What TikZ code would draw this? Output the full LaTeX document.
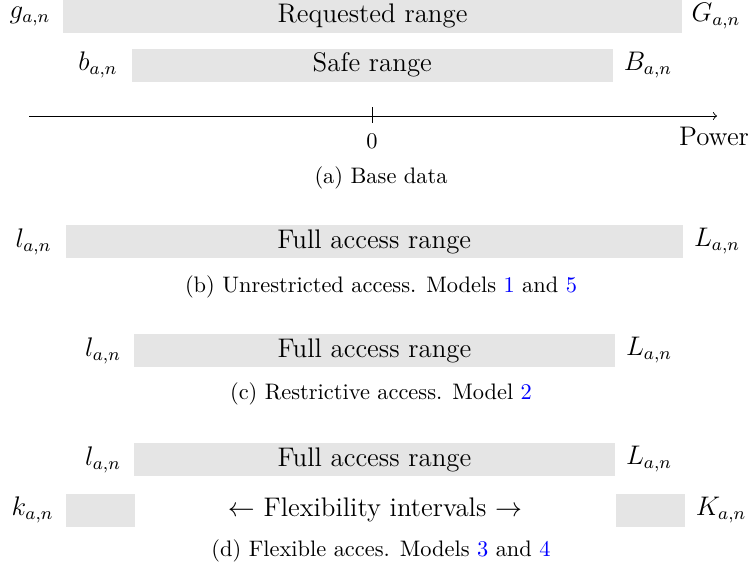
\documentclass[tikz,border=0pt]{standalone}
\definecolor{boxgray}{gray}{0.9}
\definecolor{refblue}{rgb}{0,0,1}
\begin{document}
\begin{tikzpicture}[x=0.4464pt,y=-0.4464pt,
  rangebox/.style={fill=boxgray, draw=none, inner sep=0pt, font=\large, minimum height={33*0.4464pt}},
  lbl/.style={font=\large, inner sep=0pt},
  captxt/.style={font=\normalsize, inner sep=0pt},
  axisline/.style={->, line width=0.4pt}]
\useasboundingbox (0,0) rectangle (751,570);
% (a) base data
\node[rangebox, minimum width={619*0.4464pt}] (req) at (372.5,16) {Requested range};
\node[lbl] (g) at (30,16) {$g_{a,n}$};
\node[lbl] (G) at (716,16) {$G_{a,n}$};
\node[rangebox, minimum width={481*0.4464pt}] (safe) at (372.3,65) {Safe range};
\node[lbl] (b) at (98,65) {$b_{a,n}$};
\node[lbl] (B) at (648,65) {$B_{a,n}$};
\coordinate (axL) at (29,116);
\coordinate (axR) at (717,116);
\coordinate (tickT) at (372,107);
\coordinate (tickB) at (372,123);
\draw[axisline] (axL) -- (axR);
\draw (tickT) -- (tickB);
\node[captxt] (zero) at (372,141) {0};
\node[lbl] (power) at (714,136) {Power};
\node[captxt] (capa) at (381,178) {(a) Base data};
% (b)
\node[rangebox, minimum width={617*0.4464pt}] (fullb) at (374.3,241.5) {Full access range};
\node[lbl] (lb) at (33.5,241.5) {$l_{a,n}$};
\node[lbl] (Lb) at (717,241.5) {$L_{a,n}$};
\node[captxt] (capb) at (381,287) {(b) Unrestricted access. Models \textcolor{refblue}{1} and \textcolor{refblue}{5}};
% (c)
\node[rangebox, minimum width={481*0.4464pt}] (fullc) at (374.5,350.5) {Full access range};
\node[lbl] (lc) at (103,350.5) {$l_{a,n}$};
\node[lbl] (Lc) at (649,350.5) {$L_{a,n}$};
\node[captxt] (capc) at (381,394) {(c) Restrictive access. Model \textcolor{refblue}{2}};
% (d)
\node[rangebox, minimum width={481*0.4464pt}] (fulld) at (374.5,459.5) {Full access range};
\node[lbl] (ld) at (103,459.5) {$l_{a,n}$};
\node[lbl] (Ld) at (649,459.5) {$L_{a,n}$};
\node[rangebox, minimum width={69*0.4464pt}] (flexl) at (100.5,510) {};
\node[rangebox, minimum width={69*0.4464pt}] (flexr) at (650.5,510) {};
\node[lbl] (k) at (32.6,510) {$k_{a,n}$};
\node[lbl] (K) at (721,510) {$K_{a,n}$};
\node[lbl] (flex) at (375,510) {$\leftarrow$ Flexibility intervals $\rightarrow$};
\node[captxt] (capd) at (381,551) {(d) Flexible acces. Models \textcolor{refblue}{3} and \textcolor{refblue}{4}};
\end{tikzpicture}
\end{document}
